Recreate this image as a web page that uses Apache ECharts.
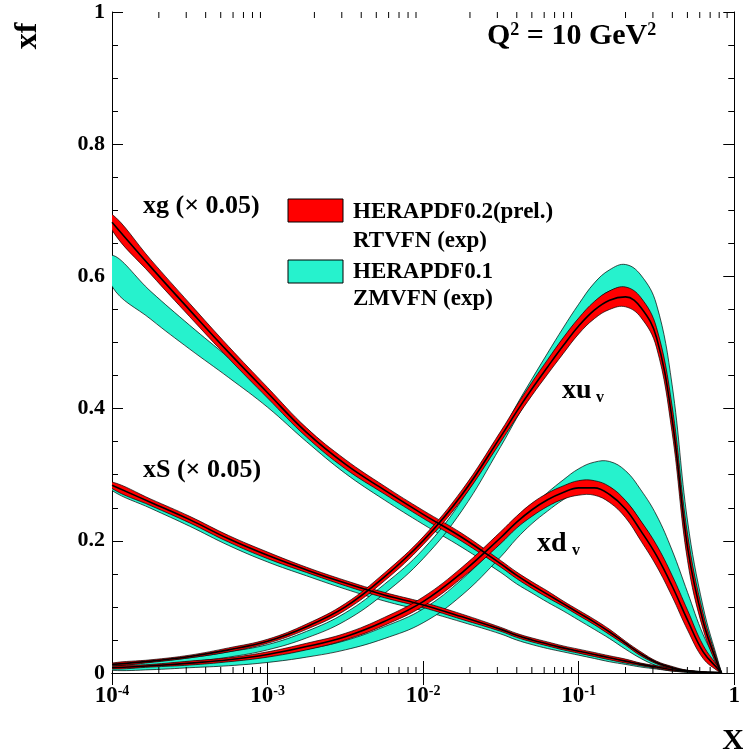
<!DOCTYPE html>
<html>
<head>
<meta charset="utf-8">
<script src="https://cdn.jsdelivr.net/npm/echarts@6/dist/echarts.min.js"></script>
<style>
  html, body { margin: 0; padding: 0; background: #fff; }
  #chart { width: 743px; height: 755px; }
</style>
</head>
<body>
<div id="chart"></div>
<script>
// x sampling points (log spaced)
var xs = [0.0001, 0.000178, 0.000316, 0.000562, 0.001, 0.00178, 0.00316, 0.00562, 0.01, 0.0178, 0.0316, 0.0398, 0.0501, 0.0631, 0.0794, 0.1, 0.126, 0.158, 0.2, 0.251, 0.316, 0.398, 0.501, 0.631, 0.794, 0.83];

// xg (x 0.05)
var xgRedMid  = [0.682,0.614,0.549,0.485,0.424,0.364,0.316,0.277,0.240,0.205,0.165,0.148,0.133,0.119,0.105,0.091,0.077,0.062,0.045,0.029,0.016,0.008,0.003,0.001,0,0];
var xgRedHi   = [0.694,0.625,0.559,0.494,0.432,0.371,0.323,0.283,0.246,0.211,0.170,0.153,0.138,0.124,0.109,0.095,0.081,0.066,0.048,0.032,0.018,0.010,0.004,0.002,0.001,0];
var xgRedLo   = [0.670,0.603,0.539,0.476,0.416,0.357,0.309,0.271,0.234,0.199,0.160,0.143,0.128,0.114,0.101,0.087,0.073,0.058,0.042,0.026,0.014,0.006,0.002,0,0,0];
var xgCyanHi  = [0.632,0.577,0.526,0.477,0.426,0.370,0.320,0.279,0.240,0.205,0.166,0.149,0.134,0.120,0.106,0.092,0.078,0.063,0.046,0.030,0.017,0.009,0.004,0.002,0.001,0];
var xgCyanLo  = [0.585,0.535,0.490,0.447,0.402,0.350,0.302,0.262,0.225,0.190,0.152,0.135,0.121,0.107,0.094,0.080,0.066,0.052,0.036,0.022,0.011,0.004,0.001,0,0,0];

// xS (x 0.05)
var xsRedMid  = [0.284,0.258,0.232,0.203,0.178,0.156,0.136,0.118,0.103,0.085,0.066,0.057,0.050,0.044,0.038,0.033,0.028,0.023,0.018,0.013,0.009,0.005,0.003,0.001,0,0];
var xsRedHi   = [0.289,0.263,0.237,0.208,0.183,0.160,0.140,0.122,0.107,0.089,0.069,0.060,0.053,0.047,0.041,0.036,0.031,0.026,0.021,0.015,0.011,0.007,0.004,0.002,0.001,0];
var xsRedLo   = [0.279,0.253,0.227,0.198,0.173,0.152,0.132,0.114,0.099,0.081,0.063,0.054,0.047,0.041,0.035,0.030,0.025,0.020,0.015,0.011,0.007,0.003,0.002,0,0,0];
var xsCyanHi  = [0.286,0.260,0.234,0.205,0.180,0.158,0.138,0.120,0.105,0.087,0.067,0.058,0.051,0.045,0.039,0.034,0.029,0.024,0.019,0.014,0.010,0.006,0.003,0.001,0,0];
var xsCyanLo  = [0.276,0.249,0.222,0.193,0.168,0.147,0.127,0.109,0.094,0.077,0.059,0.050,0.043,0.037,0.032,0.027,0.022,0.017,0.013,0.009,0.006,0.003,0.001,0,0,0];

// xu_v
var xuRedMid  = [0.013,0.018,0.025,0.035,0.048,0.070,0.100,0.145,0.200,0.270,0.358,0.395,0.430,0.463,0.495,0.525,0.549,0.564,0.569,0.553,0.508,0.385,0.190,0.078,0.009,0];
var xuRedHi   = [0.015,0.020,0.027,0.038,0.051,0.074,0.105,0.151,0.206,0.277,0.366,0.404,0.440,0.474,0.507,0.537,0.562,0.578,0.584,0.568,0.523,0.405,0.210,0.090,0.013,0];
var xuRedLo   = [0.011,0.016,0.023,0.032,0.045,0.066,0.095,0.139,0.194,0.263,0.350,0.386,0.420,0.452,0.483,0.513,0.536,0.550,0.554,0.538,0.493,0.365,0.170,0.066,0.005,0];
var xuCyanHi  = [0.013,0.017,0.023,0.032,0.043,0.063,0.091,0.134,0.187,0.262,0.361,0.405,0.445,0.484,0.522,0.558,0.590,0.610,0.618,0.602,0.558,0.437,0.230,0.100,0.015,0];
var xuCyanLo  = [0.007,0.011,0.017,0.024,0.035,0.053,0.079,0.120,0.173,0.246,0.343,0.385,0.425,0.462,0.498,0.532,0.560,0.578,0.582,0.564,0.518,0.393,0.190,0.076,0.007,0];

// xd_v
var xdRedMid  = [0.008,0.011,0.015,0.020,0.028,0.040,0.055,0.078,0.108,0.152,0.205,0.228,0.247,0.262,0.273,0.280,0.280,0.270,0.248,0.215,0.178,0.132,0.080,0.032,0.005,0];
var xdRedHi   = [0.010,0.013,0.018,0.023,0.032,0.045,0.060,0.084,0.115,0.160,0.214,0.237,0.257,0.272,0.283,0.291,0.291,0.282,0.261,0.230,0.194,0.148,0.095,0.042,0.008,0];
var xdRedLo   = [0.006,0.009,0.012,0.017,0.024,0.035,0.050,0.072,0.101,0.144,0.196,0.219,0.237,0.252,0.263,0.269,0.269,0.258,0.235,0.200,0.162,0.116,0.065,0.022,0.002,0];
var xdCyanHi  = [0.008,0.011,0.014,0.019,0.026,0.036,0.049,0.070,0.097,0.142,0.200,0.228,0.252,0.273,0.292,0.309,0.319,0.320,0.306,0.277,0.239,0.186,0.122,0.058,0.012,0];
var xdCyanLo  = [0.004,0.005,0.008,0.011,0.016,0.024,0.035,0.052,0.076,0.118,0.176,0.203,0.226,0.245,0.262,0.275,0.281,0.276,0.260,0.229,0.191,0.142,0.086,0.034,0.004,0];

// minor ticks of the log axis
var minorTicks = [];
[0.0001, 0.001, 0.01, 0.1].forEach(function (d) {
  for (var k = 2; k <= 9; k++) minorTicks.push(d * k);
});

var RED = '#ff0000';
var CYAN = '#26f2cd';
var FONT = 'Liberation Serif';
var SMOOTH = 0.4;

var myChart = echarts.init(document.getElementById('chart'));

function band(name, hi, lo, color) {
  return {
    name: name,
    type: 'custom',
    clip: true,
    silent: true,
    data: [[0.01, 0.5]],
    encode: { x: 0, y: 1 },
    renderItem: function (params, api) {
      var pts = [];
      for (var i = 0; i < xs.length; i++) pts.push(api.coord([xs[i], hi[i]]));
      for (var j = xs.length - 1; j >= 0; j--) pts.push(api.coord([xs[j], lo[j]]));
      return {
        type: 'polygon',
        shape: { points: pts, smooth: SMOOTH },
        style: { fill: color, stroke: '#000', lineWidth: 0.7 }
      };
    },
    z: color === RED ? 3 : 2
  };
}

function centre(name, mid) {
  return {
    name: name,
    type: 'line',
    smooth: SMOOTH,
    symbol: 'none',
    silent: true,
    data: xs.map(function (x, i) { return [x, mid[i]]; }),
    lineStyle: { color: '#000', width: 1.6 },
    z: 4
  };
}

var labelFont = 'bold 26px "Liberation Serif"';
var legendFont = 'bold 23px "Liberation Serif"';

var option = {
  animation: false,
  grid: { left: 112, right: 6, top: 12, bottom: 82 },
  xAxis: [{
    type: 'log',
    logBase: 10,
    min: 0.0001,
    max: 1,
    axisLine: { lineStyle: { color: '#000', width: 1 } },
    axisTick: { inside: true, length: 12, lineStyle: { color: '#000' } },
    splitLine: { show: false },
    axisLabel: {
      margin: 11,
      showMinLabel: true,
      showMaxLabel: true,
      formatter: function (v) {
        var e = Math.round(Math.log10(v));
        return e === 0 ? '{b|1}' : '{b|10}{e|' + e + '}';
      },
      rich: {
        b: { fontFamily: FONT, fontWeight: 'bold', fontSize: 23, color: '#000', lineHeight: 24 },
        e: { fontFamily: FONT, fontWeight: 'bold', fontSize: 14, color: '#000', verticalAlign: 'top', lineHeight: 14 }
      }
    }
  }, {
    type: 'log',
    logBase: 10,
    min: 0.0001,
    max: 1,
    position: 'top',
    axisLine: { lineStyle: { color: '#000', width: 1 } },
    axisTick: { inside: true, length: 12, lineStyle: { color: '#000' } },
    axisLabel: { show: false },
    splitLine: { show: false }
  }],
  yAxis: [{
    type: 'value',
    min: 0,
    max: 1,
    interval: 0.2,
    axisLine: { show: true, lineStyle: { color: '#000', width: 1 } },
    axisTick: { inside: true, length: 11, lineStyle: { color: '#000' } },
    minorTick: { show: true, splitNumber: 4, length: 6, lineStyle: { color: '#000' } },
    splitLine: { show: false },
    axisLabel: { margin: 7, padding: [7, 0, 0, 0], fontFamily: FONT, fontWeight: 'bold', fontSize: 22, color: '#000' }
  }, {
    type: 'value',
    min: 0,
    max: 1,
    interval: 0.2,
    position: 'right',
    axisLine: { show: true, lineStyle: { color: '#000', width: 1 } },
    axisTick: { inside: true, length: 11, lineStyle: { color: '#000' } },
    minorTick: { show: true, splitNumber: 4, length: 6, lineStyle: { color: '#000' } },
    splitLine: { show: false },
    axisLabel: { show: false }
  }],
  series: [
    band('xg HERAPDF0.1', xgCyanHi, xgCyanLo, CYAN),
    band('xS HERAPDF0.1', xsCyanHi, xsCyanLo, CYAN),
    band('xuv HERAPDF0.1', xuCyanHi, xuCyanLo, CYAN),
    band('xdv HERAPDF0.1', xdCyanHi, xdCyanLo, CYAN),
    band('xg HERAPDF0.2', xgRedHi, xgRedLo, RED),
    band('xS HERAPDF0.2', xsRedHi, xsRedLo, RED),
    band('xuv HERAPDF0.2', xuRedHi, xuRedLo, RED),
    band('xdv HERAPDF0.2', xdRedHi, xdRedLo, RED),
    centre('xg', xgRedMid),
    centre('xS', xsRedMid),
    centre('xuv', xuRedMid),
    centre('xdv', xdRedMid),
    {
      name: 'minor ticks',
      type: 'custom',
      silent: true,
      data: minorTicks.map(function (x) { return [x, 0]; }),
      encode: { x: 0, y: 1 },
      renderItem: function (params, api) {
        var b = api.coord([api.value(0), 0]);
        var t = api.coord([api.value(0), 1]);
        return {
          type: 'group',
          children: [
            { type: 'line', shape: { x1: b[0], y1: b[1], x2: b[0], y2: b[1] - 6 }, style: { stroke: '#000', lineWidth: 1 } },
            { type: 'line', shape: { x1: t[0], y1: t[1], x2: t[0], y2: t[1] + 6 }, style: { stroke: '#000', lineWidth: 1 } }
          ]
        };
      },
      z: 5
    }
  ],
  graphic: [
    { type: 'text', x: 28, y: 36, rotation: Math.PI / 2, style: { text: 'xf', font: 'bold 32px "Liberation Serif"', fill: '#000', align: 'center', verticalAlign: 'middle' } },
    { type: 'text', x: 733, y: 741, style: { text: 'X', font: 'bold 30px "Liberation Serif"', fill: '#000', align: 'center', verticalAlign: 'middle' } },
    { type: 'text', x: 487, y: 36, style: {
      text: '{b|Q}{s|2}{b| = 10 GeV}{s|2}', verticalAlign: 'middle',
      rich: {
        b: { font: 'bold 30px "Liberation Serif"', fill: '#000', lineHeight: 30 },
        s: { font: 'bold 18px "Liberation Serif"', fill: '#000', verticalAlign: 'top', lineHeight: 18 }
      }
    } },
    { type: 'text', x: 143, y: 206, style: { text: 'xg (\u00d7 0.05)', font: labelFont, fill: '#000', verticalAlign: 'middle' } },
    { type: 'text', x: 143, y: 470, style: { text: 'xS (\u00d7 0.05)', font: labelFont, fill: '#000', verticalAlign: 'middle' } },
    { type: 'text', x: 562, y: 391, style: { text: 'xu', font: 'bold 28px "Liberation Serif"', fill: '#000', verticalAlign: 'middle' } },
    { type: 'text', x: 596, y: 398, style: { text: 'v', font: 'bold 16px "Liberation Serif"', fill: '#000', verticalAlign: 'middle' } },
    { type: 'text', x: 537, y: 544, style: { text: 'xd', font: 'bold 28px "Liberation Serif"', fill: '#000', verticalAlign: 'middle' } },
    { type: 'text', x: 572, y: 551, style: { text: 'v', font: 'bold 16px "Liberation Serif"', fill: '#000', verticalAlign: 'middle' } },
    { type: 'rect', shape: { x: 288, y: 199, width: 55, height: 23 }, style: { fill: RED, stroke: '#000', lineWidth: 1 } },
    { type: 'rect', shape: { x: 288, y: 260, width: 55, height: 23 }, style: { fill: CYAN, stroke: '#000', lineWidth: 1 } },
    { type: 'text', x: 353, y: 212, style: { text: 'HERAPDF0.2(prel.)', font: legendFont, fill: '#000', verticalAlign: 'middle' } },
    { type: 'text', x: 353, y: 241, style: { text: 'RTVFN (exp)', font: legendFont, fill: '#000', verticalAlign: 'middle' } },
    { type: 'text', x: 353, y: 272, style: { text: 'HERAPDF0.1', font: legendFont, fill: '#000', verticalAlign: 'middle' } },
    { type: 'text', x: 353, y: 299, style: { text: 'ZMVFN (exp)', font: legendFont, fill: '#000', verticalAlign: 'middle' } }
  ]
};

myChart.setOption(option);
</script>
</body>
</html>
